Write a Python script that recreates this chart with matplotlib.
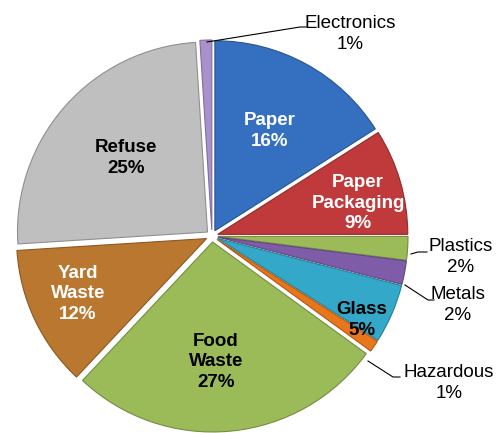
import matplotlib.pyplot as plt
import matplotlib.colors as mcolors

plt.rcParams['font.family'] = ['Liberation Sans', 'DejaVu Sans']

# waste composition, clockwise from 12 o'clock
categories = ['Paper', 'Paper\nPackaging', 'Plastics', 'Metals', 'Glass',
              'Hazardous', 'Food\nWaste', 'Yard\nWaste', 'Refuse', 'Electronics']
shares = [16, 9, 2, 2, 5, 1, 27, 12, 25, 1]
colors = ['#3470BF', '#C0393B', '#9BBB59', '#7E5CA7', '#33A8C9',
          '#E8761A', '#9BBB59', '#B9772F', '#BFBFBF', '#A992CC']

# label placement (pixel coords, y down) and style
inside = {
    'Paper': ((270, 131), 'white'),
    'Paper\nPackaging': ((358, 203), 'white'),
    'Glass': ((362, 320), 'black'),
    'Food\nWaste': ((216, 362), 'black'),
    'Yard\nWaste': ((78, 294), 'white'),
    'Refuse': ((126, 158), 'black'),
}
outside = {
    'Electronics': ((350, 34), [(207, 42), (300, 27), (306, 27)]),
    'Plastics': ((461, 257), [(411, 254), (418, 252), (427, 252)]),
    'Metals': ((458, 305), [(405, 285), (428, 300), (434, 300)]),
    'Hazardous': ((449, 383), [(368, 361), (393, 377), (400, 377)]),
}

W, H = 496, 433
fig = plt.figure(figsize=(W / 100, H / 100), dpi=100)
ax = fig.add_axes([0, 0, 1, 1])

edges = [tuple(c * 0.75 for c in mcolors.to_rgb(col)) for col in colors]
wedges, _ = ax.pie(shares, colors=colors, startangle=90, counterclock=False,
                   center=(212, H - 236), radius=190, explode=[6] * len(shares),
                   frame=True)
for w, ec in zip(wedges, edges):
    w.set_edgecolor(ec)
    w.set_linewidth(0.8)
ax.set_xlim(0, W)
ax.set_ylim(0, H)
ax.set_aspect('equal')
ax.axis('off')

for name, pct in zip(categories, shares):
    if name in inside:
        (x, y), col = inside[name]
        ax.text(x, H - y, f'{name}\n{pct}%', ha='center', va='center',
                fontsize=13.5, fontweight='bold', color=col, linespacing=1.3)
    elif name in outside:
        (x, y), pts = outside[name]
        ax.plot([p[0] for p in pts], [H - p[1] for p in pts], color='black', lw=0.8)
        ax.text(x, H - y, f'{name}\n{pct}%', ha='center', va='center',
                fontsize=13.5, color='black', linespacing=1.3)

fig.savefig('out.png', dpi=100)
